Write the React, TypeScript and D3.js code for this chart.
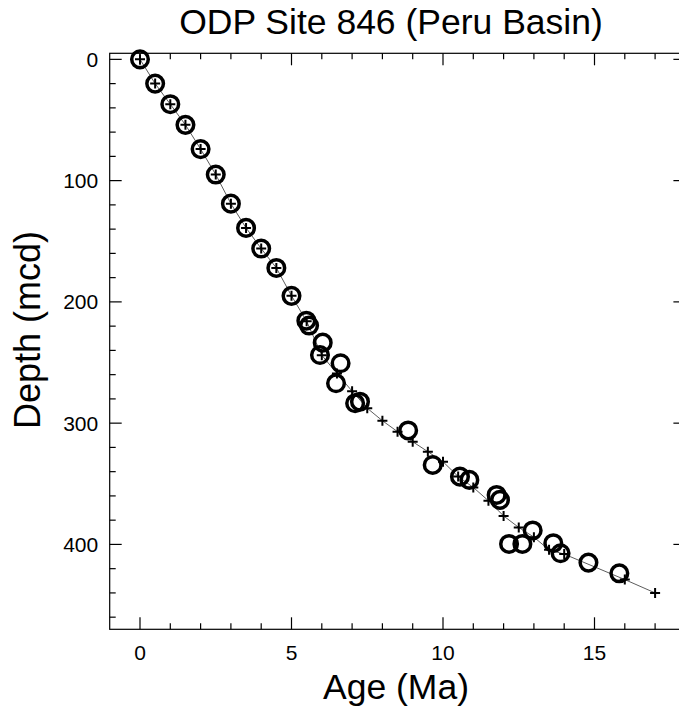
import React from "react";
import * as d3 from "d3";

const circleAge = [0, 0.5, 1, 1.5, 2, 2.5, 3, 3.5, 4, 4.5, 5, 5.49, 5.58, 6.03, 5.94, 6.62, 6.47, 7.1, 7.26, 8.85, 9.66, 10.56, 10.87, 11.77, 11.88, 12.18, 12.62, 12.96, 13.64, 13.88, 14.8, 15.82];
const circleDepth = [0, 20, 37, 54, 74, 95, 119, 139, 156, 172, 195, 215.5, 219.5, 233.6, 243.8, 250.6, 267.1, 283.6, 282.3, 306, 334.5, 344.1, 346.8, 359.2, 363.3, 399.6, 399.6, 388.5, 399, 407.3, 415, 423.8];

const modelAge = [0, 0.5, 1, 1.5, 2, 2.5, 3, 3.5, 4, 4.5, 5, 5.5, 6, 6.5, 7, 7.5, 8, 8.5, 9, 9.5, 10, 10.5, 11, 11.5, 12, 12.5, 13, 13.5, 14, 16, 17];
const modelDepth = [0, 20, 37, 54, 74, 95, 119, 139, 156, 172, 195, 216, 244, 259, 273.6, 287.7, 298, 307, 315.3, 323.5, 331.8, 344, 353, 364, 376.5, 386, 394, 404.5, 408, 429, 440];

const xMajor = [0, 5, 10, 15];
const yMajor = [0, 100, 200, 300, 400];

const W = 679;
const H = 714;
const left = 109.7;
const top = 53.3;
const pw = 575.7;
const ph = 576;
const font = "'Liberation Sans', Arial, Helvetica, sans-serif";

export default function App() {
  const x = d3.scaleLinear().domain([-1, 18]).range([left, left + pw]);
  const y = d3.scaleLinear().domain([-5, 470]).range([top, top + ph]);
  const xMinor = d3.range(0, 18, 1).filter((v) => v % 5 !== 0);
  const yMinor = d3.range(0, 470, 20).filter((v) => v % 100 !== 0);
  const line = d3
    .line<number>()
    .x((_, i) => x(modelAge[i]))
    .y((_, i) => y(modelDepth[i]));
  const bottom = top + ph;
  const right = left + pw;
  const MJ = 12;
  const MN = 6;
  return (
    <svg width={W} height={H} style={{ position: "absolute", left: 0, top: 0, background: "#fff" }}>
      <rect x={0} y={0} width={W} height={H} fill="#fff" />
      <g stroke="#000" strokeWidth={1.2}>
        {[...xMajor.map((v) => [v, MJ]), ...xMinor.map((v) => [v, MN])].map(([v, l], i) => (
          <g key={"xt" + i}>
            <line x1={x(v)} x2={x(v)} y1={bottom} y2={bottom - l} />
            <line x1={x(v)} x2={x(v)} y1={top} y2={top + l} />
          </g>
        ))}
        {[...yMajor.map((v) => [v, MJ]), ...yMinor.map((v) => [v, MN])].map(([v, l], i) => (
          <g key={"yt" + i}>
            <line x1={left} x2={left + l} y1={y(v)} y2={y(v)} />
            <line x1={right} x2={right - l} y1={y(v)} y2={y(v)} />
          </g>
        ))}
        <rect x={left} y={top} width={pw} height={ph} fill="none" />
      </g>
      <path d={line(modelAge) || ""} fill="none" stroke="#333" strokeWidth={0.8} />
      <g fill="none" stroke="#000" strokeWidth={2}>
        {modelAge.map((a, i) => (
          <path
            key={"p" + i}
            d={`M${x(a) - 5},${y(modelDepth[i])}h10M${x(a)},${y(modelDepth[i]) - 5}v10`}
          />
        ))}
      </g>
      <g fill="none" stroke="#000" strokeWidth={3.5}>
        {circleAge.map((a, i) => (
          <circle key={"c" + i} cx={x(a)} cy={y(circleDepth[i])} r={8.3} />
        ))}
      </g>
      <g fontFamily={font} fontSize={21} fill="#000">
        {xMajor.map((v) => (
          <text key={"xl" + v} x={x(v)} y={bottom + 31} textAnchor="middle">
            {v}
          </text>
        ))}
        {yMajor.map((v) => (
          <text key={"yl" + v} x={left - 11.5} y={y(v) + 7.5} textAnchor="end">
            {v}
          </text>
        ))}
      </g>
      <text x={391} y={34} textAnchor="middle" fontFamily={font} fontSize={35.5}>
        ODP Site 846 (Peru Basin)
      </text>
      <text x={396} y={699} textAnchor="middle" fontFamily={font} fontSize={35.5}>
        Age (Ma)
      </text>
      <text
        transform={`translate(40,330) rotate(-90)`}
        textAnchor="middle"
        fontFamily={font}
        fontSize={36}
      >
        Depth (mcd)
      </text>
    </svg>
  );
}
